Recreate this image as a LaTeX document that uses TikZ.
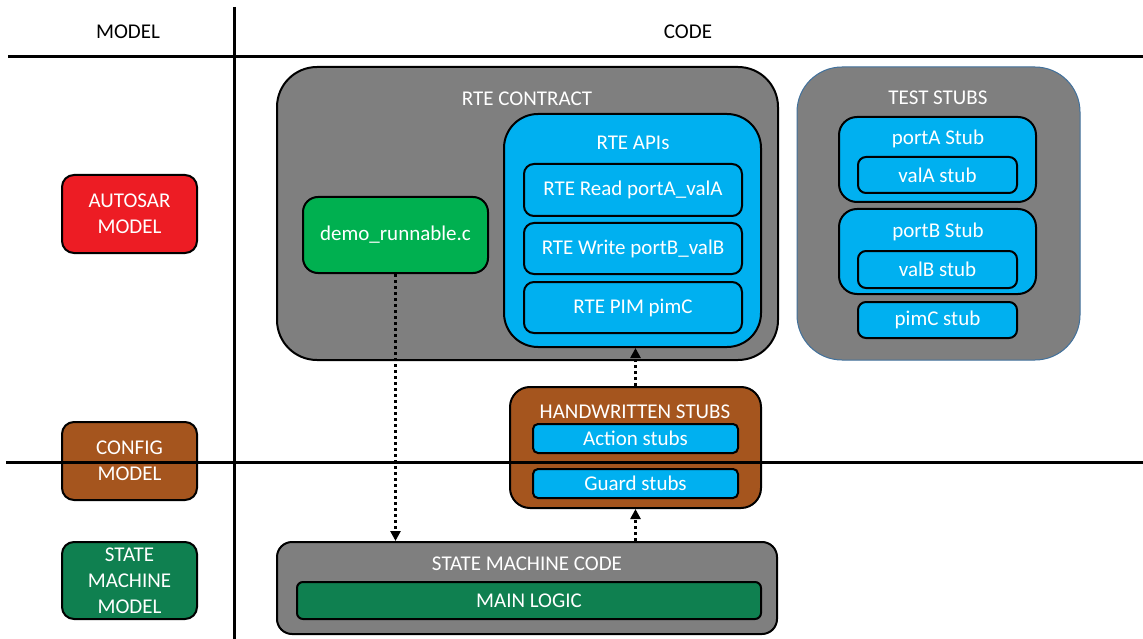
\documentclass[tikz,border=0pt]{standalone}
\usepackage{fontspec}
\setmainfont{Carlito}
\usetikzlibrary{arrows.meta}

\definecolor{boxgray}{HTML}{7F7F7F}
\definecolor{apiblue}{HTML}{00B0F0}
\definecolor{codegreen}{HTML}{00B050}
\definecolor{autored}{HTML}{ED1C24}
\definecolor{cfgbrown}{HTML}{A5551E}
\definecolor{smgreen}{HTML}{0F8050}
\definecolor{stubedge}{HTML}{41719C}

\tikzset{
  txt/.style={font=\fontsize{21}{26}\selectfont, inner sep=0pt},
  wtxt/.style={txt, text=white},
  panel/.style={draw=black, line width=2pt, text=white, inner sep=0pt,
    font=\fontsize{21}{26}\selectfont, align=center},
  gridline/.style={line width=3pt, black},
  flow/.style={line width=3pt, dash pattern=on 3pt off 3pt,
    -{Triangle[width=10pt,length=10pt]}},
}

% box from corner (x1,y1) to (x2,y2) in pixel units (y grows downward)
\newcommand{\pbox}[7]{%
  \node[panel, #2, minimum width={#5-#3}, minimum height={#6-#4}]
    (#1) at ({(#3+#5)/2},{(#4+#6)/2}) {#7};}

\begin{document}
\begin{tikzpicture}[x=1pt, y=-1pt]
\useasboundingbox (0,0) rectangle (1143,639);
\fill[white] (0,0) rectangle (1143,639);

% model column
\pbox{autosar}{fill=autored, rounded corners=12pt}{62}{175}{197}{253}{AUTOSAR\\MODEL}
\pbox{config}{fill=cfgbrown, rounded corners=12pt}{62}{422}{197}{500}{CONFIG\\MODEL}
\pbox{smmodel}{fill=smgreen, rounded corners=12pt}{62}{542}{197}{619}{STATE\\MACHINE\\MODEL}

% RTE contract
\pbox{rtec}{fill=boxgray, rounded corners=40pt}{277}{67}{778}{360}{}
\node[wtxt] (rtectitle) at (527,99) {RTE CONTRACT};
\pbox{demo}{fill=codegreen, rounded corners=15pt}{303}{197}{488}{273}{demo\_runnable.c}
\pbox{apis}{fill=apiblue, rounded corners=34pt}{504}{114}{761}{347}{}
\node[wtxt] (apistitle) at (633,143) {RTE APIs};
\pbox{rread}{fill=apiblue, rounded corners=10pt}{524}{164}{742}{216}{RTE Read portA\_valA}
\pbox{rwrite}{fill=apiblue, rounded corners=10pt}{524}{223}{742}{274}{RTE Write portB\_valB}
\pbox{rpim}{fill=apiblue, rounded corners=10pt}{524}{282}{742}{333}{RTE PIM pimC}

% test stubs
\pbox{tstubs}{fill=boxgray, draw=stubedge, line width=1pt, rounded corners=45pt}{797}{67}{1080}{360}{}
\node[wtxt] (tstitle) at (938,98) {TEST STUBS};
\pbox{porta}{fill=apiblue, rounded corners=18pt}{839}{117}{1036}{202}{}
\node[wtxt] (portatitle) at (938,139) {portA Stub};
\pbox{vala}{fill=apiblue, rounded corners=8pt}{858}{157}{1017}{193}{valA stub}
\pbox{portb}{fill=apiblue, rounded corners=18pt}{839}{209}{1036}{294}{}
\node[wtxt] (portbtitle) at (938,232) {portB Stub};
\pbox{valb}{fill=apiblue, rounded corners=8pt}{858}{251}{1017}{288}{valB stub}
\pbox{pimc}{fill=apiblue, rounded corners=8pt}{858}{302}{1017}{338}{pimC stub}

% handwritten stubs
\pbox{hand}{fill=cfgbrown, rounded corners=20pt}{510}{387}{761}{508}{}
\node[wtxt] (handtitle) at (635,412) {HANDWRITTEN STUBS};
\pbox{action}{fill=apiblue, rounded corners=5pt}{533}{424}{738}{453}{Action stubs}
\pbox{guard}{fill=apiblue, rounded corners=5pt}{533}{469}{738}{498}{Guard stubs}

% state machine code
\pbox{smcode}{fill=boxgray, rounded corners=15pt}{277}{542}{777}{634}{}
\node[wtxt] (smtitle) at (527,564) {STATE MACHINE CODE};
\pbox{mainlogic}{fill=smgreen, rounded corners=6pt}{297}{582}{761}{619}{MAIN LOGIC}

% column headers and grid
\node[txt] (hmodel) at (128,32) {MODEL};
\node[txt] (hcode) at (688,32) {CODE};
\draw[gridline] (8,57) -- (1143,57);
\draw[gridline] (234,7) -- (234,639);
\draw[gridline] (6,462) -- (1143,462);

% dependencies
\draw[flow] (demo.south) -- (demo.south |- smcode.north);
\draw[flow] (hand.south |- smcode.north) -- (hand.south);
\draw[flow] (hand.north) -- (hand.north |- apis.south);
\end{tikzpicture}
\end{document}
